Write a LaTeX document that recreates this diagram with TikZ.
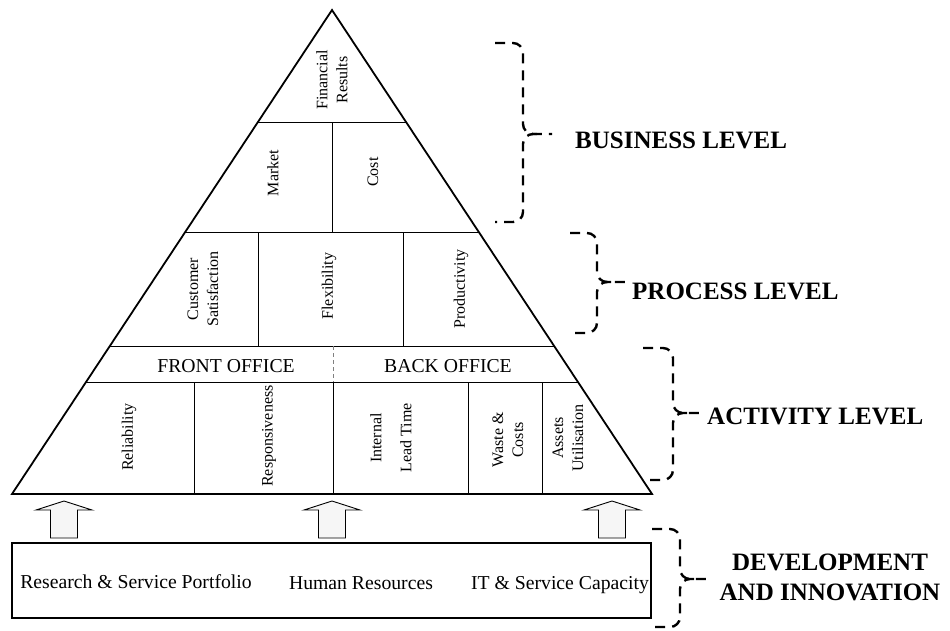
\documentclass[tikz,border=0pt]{standalone}
\usepackage{fontspec}
\setmainfont{Liberation Serif}
\usetikzlibrary{calc}

\begin{document}
\begin{tikzpicture}[
    x=1pt, y=-1pt,
    cell/.style={rotate=90, align=center, inner sep=0pt, font=\fontsize{16}{20}\selectfont},
    band/.style={inner sep=0pt, font=\fontsize{19.7}{23}\selectfont},
    level/.style={inner sep=0pt, align=center, font=\fontsize{25}{30}\selectfont\bfseries},
    divider/.style={line width=1pt},
    levelbrace/.style={line width=2.4pt, dash pattern=on 10pt off 7pt, rounded corners=10pt},
    blockarrow/.style={draw=black, line width=0.9pt, fill=gray!7}
]
\useasboundingbox (0,0) rectangle (950,630);

% Pyramid outline
\coordinate (apex) at (332,10);
\coordinate (bl) at (12,494);
\coordinate (br) at (652,494);
\draw[line width=1.8pt] (bl) -- (apex) -- (br) -- cycle;

% Rows
\foreach \f in {0.2314,0.4607,0.6942,0.7686}
  \draw[divider] ($(apex)!\f!(bl)$) -- ($(apex)!\f!(br)$);

% Columns
\draw[divider] (332,122) -- (332,233);
\draw[divider] (258,233) -- (258,346);
\draw[divider] (403,233) -- (403,346);
\draw[line width=0.7pt, gray, dash pattern=on 4pt off 3pt] (333,346) -- (333,382);
\foreach \x in {194,333,468,542}
  \draw[divider] (\x,382) -- (\x,494);

% Business level cells
\node[cell] (finance) at (332,80) {Financial\\Results};
\node[cell] (market) at (273,173) {Market};
\node[cell] (cost) at (373,172) {Cost};

% Process level cells
\node[cell] (custsat) at (203,289) {Customer\\Satisfaction};
\node[cell] (flex) at (329,286) {Flexibility};
\node[cell] (prod) at (461,289) {Productivity};

% Activity level
\node[band] (front) at (226,366) {FRONT OFFICE};
\node[band] (back) at (448,366) {BACK OFFICE};
\node[cell] (reliab) at (129,437) {Reliability};
\node[cell] (respons) at (269,436) {Responsiveness};
\node[cell] (leadtime) at (391,438) {Internal\\[10pt]Lead Time};
\node[cell] (waste) at (508,440) {Waste \&\\Costs};
\node[cell] (assets) at (568,438) {Assets\\Utilisation};

% Development and innovation base
\node[draw, line width=1.8pt, inner sep=0pt, minimum width=639pt, minimum height=75pt] (found) at (331.5,580.5) {};
\node[band, anchor=base] (research) at (136,588) {Research \& Service Portfolio};
\node[band, anchor=base] (human) at (361,589) {Human Resources};
\node[band, anchor=base] (itcap) at (560,589) {IT \& Service Capacity};

% Block arrows
\foreach \x in {64,332,612}
  \draw[blockarrow] (\x,501) -- ++(-28,9) -- ++(14.5,0) -- ++(0,28) -- ++(27,0) -- ++(0,-28) -- ++(14.5,0) -- cycle;

% Dashed braces
\foreach \xa/\xb/\xc/\ya/\yb/\yc in {495/523/552/43/134/222, 570/597/625/233/282/333, 643/673/702/348/413/480, 652/680/706/529/579/627} {
  \draw[levelbrace] (\xa,\ya) -- (\xb,\ya) -- (\xb,\yb) -- (\xc,\yb);
  \draw[levelbrace] (\xb+14,\yb) -- (\xb,\yb) -- (\xb,\yc) -- (\xa,\yc);
}

% Level labels
\node[level, anchor=west] (bizlevel) at (575,140) {BUSINESS LEVEL};
\node[level, anchor=west] (proclevel) at (632,291) {PROCESS LEVEL};
\node[level, anchor=west] (actlevel) at (707,416) {ACTIVITY LEVEL};
\node[level] (devlevel) at (830,577) {DEVELOPMENT\\AND INNOVATION};

\end{tikzpicture}
\end{document}
